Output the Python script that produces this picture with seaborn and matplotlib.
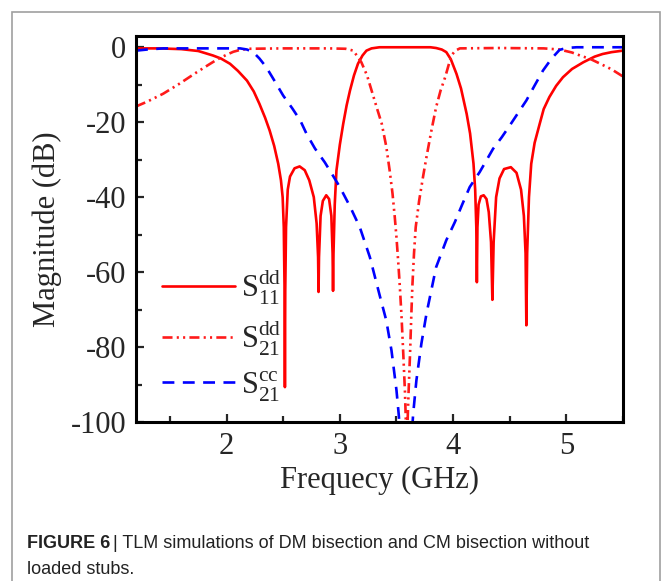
"""
Recreate FIGURE 6: TLM simulations of DM / CM bisection without loaded stubs
"""

import matplotlib

matplotlib.use("Agg")
import matplotlib.pyplot as plt
import pandas as pd
import seaborn as sns
from matplotlib.patches import Rectangle
from matplotlib.ticker import MultipleLocator

# S11 (differential mode), solid red
s11dd_freq = [
    1.20, 1.40, 1.60, 1.75, 1.88, 1.95, 2.03, 2.10, 2.18, 2.24, 2.29, 2.34,
    2.38, 2.42, 2.456, 2.48, 2.495, 2.505, 2.512, 2.515, 2.518, 2.525, 2.54,
    2.56, 2.60, 2.645, 2.69, 2.73, 2.77, 2.795, 2.808, 2.812, 2.816, 2.83,
    2.85, 2.88, 2.905, 2.925, 2.936, 2.940, 2.944, 2.955, 2.97, 3.00, 3.03,
    3.06, 3.09, 3.125, 3.16, 3.20, 3.235, 3.28, 3.35, 3.60, 3.80, 3.85, 3.90,
    3.94, 3.98, 4.03, 4.07, 4.12, 4.15, 4.18, 4.195, 4.205, 4.21, 4.215,
    4.225, 4.245, 4.27, 4.295, 4.315, 4.335, 4.347, 4.358, 4.38, 4.41, 4.45,
    4.51, 4.56, 4.60, 4.625, 4.64, 4.647, 4.654, 4.67, 4.69, 4.72, 4.765,
    4.80, 4.85, 4.91, 4.97, 5.05, 5.15, 5.25, 5.32, 5.40, 5.50,
]
s11dd_mag = [
    -0.3, -0.3, -0.5, -1.0, -2.2, -3.0, -4.4, -6.3, -8.9, -11.8, -15.1, -18.8,
    -22.2, -26.3, -31.1, -35.5, -40.0, -48.0, -65.0, -90.7, -65.0, -48.0, -38.0,
    -34.5, -32.3, -31.8, -32.8, -35.5, -40.0, -47.0, -56.0, -65.3, -56.0, -45.0,
    -41.0, -39.5, -40.5, -45.0, -55.0, -65.0, -55.0, -42.0, -32.9, -26.0, -20.4,
    -15.5, -11.5, -7.5, -4.4, -2.2, -0.9, -0.3, 0.0, 0.0, 0.0, -0.2, -0.6,
    -1.3, -3.2, -7.1, -11.0, -17.8, -23.0, -31.0, -38.0, -48.0, -62.7, -48.0,
    -42.0, -39.8, -39.5, -40.5, -44.0, -52.0, -67.4, -52.0, -40.0, -35.0, -32.5,
    -32.0, -33.5, -38.0, -45.0, -55.0, -74.2, -55.0, -40.0, -31.1, -25.5, -20.4,
    -16.5, -13.3, -10.3, -8.0, -5.8, -4.0, -2.5, -1.8, -1.3, -0.9,
]

# S21 (differential mode), red dash-dot-dot
s21dd_freq = [
    1.20, 1.30, 1.44, 1.58, 1.735, 1.85, 1.92, 2.00, 2.06, 2.12, 2.20, 2.50,
    2.90, 3.05, 3.12, 3.19, 3.24, 3.28, 3.33, 3.37, 3.41, 3.44, 3.465, 3.485,
    3.50, 3.515, 3.53, 3.545, 3.56, 3.575, 3.583, 3.59, 3.598, 3.607, 3.62,
    3.63, 3.64, 3.655, 3.67, 3.70, 3.735, 3.765, 3.81, 3.85, 3.89, 3.93, 3.96,
    3.985, 4.02, 4.06, 4.40, 4.80, 4.94, 5.05, 5.13, 5.21, 5.30, 5.40, 5.50,
]
s21dd_mag = [
    -15.8, -14.5, -12.4, -9.8, -6.7, -4.5, -3.2, -2.0, -1.2, -0.7, -0.4, -0.3,
    -0.3, -0.4, -0.9, -4.0, -7.5, -11.5, -16.5, -20.4, -26.5, -32.9, -39.0, -45.3,
    -50.7, -57.0, -64.0, -72.0, -81.7, -92.0, -100.0, -108.0, -100.0, -92.0, -81.7,
    -72.5, -64.0, -55.0, -48.0, -41.0, -34.5, -29.3, -22.0, -16.0, -11.5, -8.0, -4.8,
    -2.2, -0.9, -0.3, -0.2, -0.3, -0.6, -1.4, -2.3, -3.1, -4.4, -5.9, -7.8,
]

# S21 (common mode), blue dashed
s21cc_freq = [
    1.20, 1.30, 1.44, 2.12, 2.18, 2.235, 2.29, 2.35, 2.42, 2.50, 2.58, 2.65,
    2.706, 2.78, 2.867, 2.94, 3.00, 3.09, 3.176, 3.265, 3.35, 3.41, 3.456, 3.50,
    3.52, 3.54, 3.585, 3.63, 3.647, 3.676, 3.72, 3.765, 3.85, 3.94, 4.015, 4.08,
    4.147, 4.235, 4.353, 4.43, 4.50, 4.647, 4.72, 4.794, 4.87, 4.94, 5.00, 5.09,
    5.50,
]
s21cc_mag = [
    -0.9, -0.6, -0.3, -0.3, -0.6, -1.3, -3.0, -5.3, -8.8, -12.9, -16.3, -19.5,
    -23.1, -27.0, -30.7, -34.3, -37.3, -42.5, -48.0, -56.0, -66.0, -72.9, -80.9, -91.5,
    -98.0, -106.0, -115.0, -106.0, -98.0, -88.9, -79.1, -71.1, -58.7, -51.5, -46.7, -42.0,
    -37.3, -33.3, -27.1, -24.0, -20.9, -14.2, -10.2, -6.2, -3.0, -0.7, -0.2, 0.0,
    0.0,
]

x_ticks = [2, 3, 4, 5]
y_ticks = [0, -20, -40, -60, -80, -100]
series_labels = [
    r"$\mathrm{S}_{11}^{\mathrm{dd}}$",
    r"$\mathrm{S}_{21}^{\mathrm{dd}}$",
    r"$\mathrm{S}_{21}^{\mathrm{cc}}$",
]

sns.set_style("ticks")
plt.rcParams["font.family"] = ["Liberation Serif", "DejaVu Serif"]
plt.rcParams["mathtext.fontset"] = "custom"
plt.rcParams["mathtext.rm"] = "Liberation Serif"
plt.rcParams["axes.unicode_minus"] = False

fig = plt.figure(figsize=(6.64, 5.81), dpi=100)
ax = fig.add_axes([0.2048, 0.2737, 0.7334, 0.6643])

df11 = pd.DataFrame({"freq": s11dd_freq, "mag": s11dd_mag})
df21 = pd.DataFrame({"freq": s21dd_freq, "mag": s21dd_mag})
dfcc = pd.DataFrame({"freq": s21cc_freq, "mag": s21cc_mag})

lw = 1.9
sns.lineplot(data=df11, x="freq", y="mag", ax=ax, color="#ff0000", lw=lw,
             estimator=None, label=series_labels[0])
sns.lineplot(data=df21, x="freq", y="mag", ax=ax, color="#ff1a1a", lw=lw,
             estimator=None, label=series_labels[1])
sns.lineplot(data=dfcc, x="freq", y="mag", ax=ax, color="#0000ff", lw=lw,
             estimator=None, label=series_labels[2])
lines = ax.get_lines()
lines[1].set_dashes([3.8, 1.6, 0.8, 1.6, 0.8, 1.6])
lines[2].set_dashes([4.5, 3.2])

ax.set_xlim(1.2, 5.5)
ax.set_ylim(-100, 3)
ax.set_xticks(x_ticks)
ax.set_yticks(y_ticks)
ax.set_yticklabels([str(v) for v in y_ticks])
ax.xaxis.set_minor_locator(MultipleLocator(0.5))
ax.yaxis.set_minor_locator(MultipleLocator(10))
ax.tick_params(which="both", direction="in", width=1.6, top=False, right=False,
               labelsize=22, pad=7)
ax.tick_params(which="major", length=6)
ax.tick_params(which="minor", length=4)
for spine in ax.spines.values():
    spine.set_linewidth(2.2)
    spine.set_color("black")

ax.set_xlabel("Frequecy (GHz)", fontsize=22, labelpad=4)
ax.set_ylabel("Magnitude (dB)", fontsize=22, labelpad=6)

leg = ax.legend(loc="lower left", bbox_to_anchor=(0.015, 0.0), frameon=False,
                fontsize=22, handlelength=2.4, handletextpad=0.2,
                labelspacing=0.35, borderaxespad=0.2)

# grey frame around the figure panel (open at the bottom)
frame = Rectangle((12 / 664, -0.05), (660 - 12) / 664, 1.05 - 12 / 581,
                  transform=fig.transFigure, fill=False, edgecolor="#a0a0a0",
                  lw=1.2, clip_on=False)
fig.patches.append(frame)

# caption
cap_font = ["Liberation Sans", "DejaVu Sans"]
t1 = fig.text(27 / 664, 1 - 548 / 581, "FIGURE 6", family=cap_font,
              fontweight="bold", fontsize=13, color="#222222")
fig.canvas.draw()
bb = t1.get_window_extent()
fig.text((bb.x1 + 3) / 664, 1 - 548 / 581,
         "| TLM simulations of DM bisection and CM bisection without",
         family=cap_font, fontsize=13, color="#222222")
fig.text(27 / 664, 1 - 574 / 581, "loaded stubs.", family=cap_font,
         fontsize=13, color="#222222")

fig.savefig("out.png", dpi=100)
